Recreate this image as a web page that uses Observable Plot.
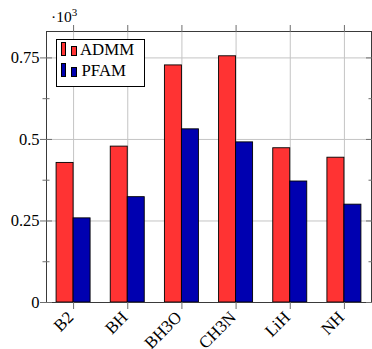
<!DOCTYPE html>
<html>
<head>
<meta charset="utf-8">
<script src="https://cdn.jsdelivr.net/npm/d3@7"></script>
<script src="https://cdn.jsdelivr.net/npm/@observablehq/plot@0.6"></script>
<style>
  html, body { margin: 0; padding: 0; background: #fff; }
  #wrap { position: relative; width: 372px; height: 349px; overflow: hidden; font-family: "Liberation Serif", serif; }
  #wrap svg { display: block; }
  .exp { position: absolute; left: 51px; top: 9px; font-size: 15.5px; line-height: 1; white-space: nowrap; }
  .exp span { font-size: 11px; position: relative; top: -6px; }
  .legend { position: absolute; left: 55.5px; top: 39px; width: 89px; height: 48px; box-sizing: border-box; border: 1px solid #000; background: #fff; }
  .sw { position: absolute; box-sizing: border-box; border: 1px solid #000; width: 5.5px; }
  .lt { position: absolute; font-size: 16.8px; line-height: 1; white-space: nowrap; }
</style>
</head>
<body>
<div id="wrap"></div>
<script>
// ---- data ----
const categories = ["B2", "BH", "BH3O", "CH3N", "LiH", "NH"];
const seriesNames = ["ADMM", "PFAM"];
const admmValues = [428, 478, 727, 755, 473, 444];
const pfamValues = [258, 323, 531, 491, 371, 300];
const yMajorTicks = [0, 250, 500, 750];
const yMinorTicks = [125, 375, 625];
const yMax = 831;
const seriesColors = ["#ff3333", "#0000b0"];

const admmData = categories.map((c, i) => ({cat: c, series: seriesNames[0], value: admmValues[i]}));
const pfamData = categories.map((c, i) => ({cat: c, series: seriesNames[1], value: pfamValues[i]}));

// ---- layout ----
const W = 372, H = 349;
const mL = 46, mR = 1, mT = 31, mB = 47;
const bandW = (W - mL - mR) / categories.length;
const barW = 17;
const gridColor = "#c4c4c4";
const tickColor = "#6e6e6e";
const serif = '"Liberation Serif", serif';

const chart = Plot.plot({
  width: W, height: H,
  marginLeft: mL, marginRight: mR, marginTop: mT, marginBottom: mB,
  style: {fontFamily: serif, fontSize: "16px", background: "white", color: "black"},
  x: {domain: categories, paddingInner: 0, paddingOuter: 0, round: false, label: null},
  y: {domain: [0, yMax], label: null},
  color: {domain: seriesNames, range: seriesColors},
  marks: [
    Plot.gridY(yMajorTicks, {stroke: gridColor, strokeOpacity: 1}),
    Plot.gridX({stroke: gridColor, strokeOpacity: 1}),
    Plot.barY(admmData, {x: "cat", y: "value", fill: "series", stroke: "black", strokeWidth: 0.9,
      insetLeft: bandW / 2 - barW, insetRight: bandW / 2}),
    Plot.barY(pfamData, {x: "cat", y: "value", fill: "series", stroke: "black", strokeWidth: 0.9,
      insetLeft: bandW / 2, insetRight: bandW / 2 - barW}),
    Plot.frame({stroke: "#3a3a3a", strokeWidth: 1}),
    // y axis labels
    Plot.axisY(yMajorTicks, {anchor: "left", tickSize: 0, tickPadding: 7, tickFormat: d => String(d / 1000), label: null, fontSize: 16.5, fontFamily: serif}),
    // y major ticks (centered on frame)
    Plot.axisY(yMajorTicks, {anchor: "left", tickSize: 12, dx: 6, fill: "none", stroke: tickColor, label: null}),
    Plot.axisY(yMajorTicks, {anchor: "right", tickSize: 12, dx: -6, fill: "none", stroke: tickColor, label: null}),
    // y minor ticks
    Plot.axisY(yMinorTicks, {anchor: "left", tickSize: 7, dx: 3.5, fill: "none", stroke: tickColor, label: null}),
    Plot.axisY(yMinorTicks, {anchor: "right", tickSize: 7, dx: -3.5, fill: "none", stroke: tickColor, label: null}),
    // x ticks top
    Plot.axisX({anchor: "top", tickSize: 7, fill: "none", stroke: tickColor, label: null}),
    // x ticks bottom
    Plot.axisX({anchor: "bottom", tickSize: 7, fill: "none", stroke: tickColor, label: null}),
    // x labels rotated, anchored at their east side below each tick
    Plot.axisX({anchor: "bottom", tickSize: 0, tickPadding: 12, dx: -3, tickRotate: -45, textAnchor: "end", lineAnchor: "middle", label: null, fontSize: 17, fontFamily: serif})
  ]
});

const wrap = document.getElementById("wrap");
wrap.appendChild(chart);

// exponent label
const exp = document.createElement("div");
exp.className = "exp";
exp.innerHTML = "·10<span>3</span>";
wrap.appendChild(exp);

// legend
const legend = document.createElement("div");
legend.className = "legend";
const rows = [
  {name: seriesNames[0], color: seriesColors[0], top: 2, textLeft: 23.5},
  {name: seriesNames[1], color: seriesColors[1], top: 23, textLeft: 25}
];
rows.forEach(r => {
  const big = document.createElement("div");
  big.className = "sw";
  big.style.cssText = `left:4px;top:${r.top}px;height:14px;background:${r.color}`;
  const small = document.createElement("div");
  small.className = "sw";
  small.style.cssText = `left:14.5px;top:${r.top + 4.3}px;height:9.7px;background:${r.color}`;
  const t = document.createElement("div");
  t.className = "lt";
  t.style.cssText = `left:${r.textLeft}px;top:${r.top + 0.4}px`;
  t.textContent = r.name;
  legend.appendChild(big);
  legend.appendChild(small);
  legend.appendChild(t);
});
wrap.appendChild(legend);
</script>
</body>
</html>
